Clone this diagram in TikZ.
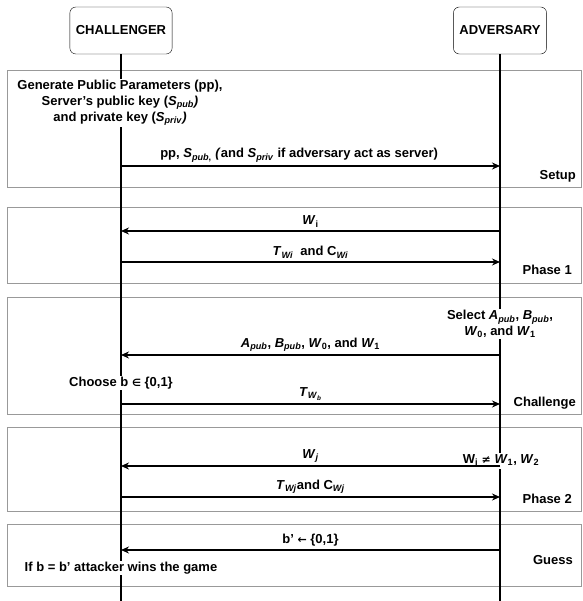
\documentclass[tikz,border=0pt]{standalone}
\usepackage{fontspec}
\setmainfont{Liberation Sans}
\newfontfamily\symfont{DejaVu Sans}
\usetikzlibrary{arrows.meta,positioning}

\newcommand{\iv}[1]{\textit{#1}}
\newcommand{\sbs}[1]{\textsubscript{#1}}

\tikzset{
  actor/.style={draw, rounded corners=6pt, inner xsep=6pt, minimum height=47pt},
  frame/.style={draw=black!40, line width=0.9pt},
  life/.style={line width=1.8pt},
  msg/.style={line width=1.3pt, -{Stealth[length=8pt,width=7pt]}},
  lbl/.style={inner sep=1pt},
  note/.style={fill=white, inner sep=1pt, align=center},
  phase/.style={anchor=east, inner sep=1pt},
}

\begin{document}
\begin{tikzpicture}[x=1pt, y=-1pt, font=\fontsize{13}{16}\selectfont\bfseries]
  \useasboundingbox (0,0) rectangle (582,601);

  % frames
  \draw[frame] (7,70) rectangle (581,187);
  \draw[frame] (7,207) rectangle (581,283);
  \draw[frame] (7,297) rectangle (581,414);
  \draw[frame] (7,427) rectangle (581,511);
  \draw[frame] (7,524) rectangle (581,586);

  % actors and lifelines
  \node[actor] (chal) at (121,30.5) {CHALLENGER};
  \node[actor] (adv) at (500,30.5) {ADVERSARY};
  \draw[life] (chal) -- (chal |- 0,601);
  \draw[life] (adv) -- (adv |- 0,601);

  % setup
  \node[note] (gen) at (120,103) {Generate Public Parameters (pp),\\
    Server's public key (\iv{S}\sbs{\iv{pub}}\iv{)}\\
    and private key (\iv{S}\sbs{\iv{priv}}\iv{)}};
  \coordinate (c1) at (chal |- 0,166);
  \coordinate (a1) at (adv |- 0,166);
  \path[msg] (c1) edge node[lbl, above=2pt, pos=0.47]
    {pp, \iv{S}\sbs{\iv{pub},} \iv{(}and \iv{S}\sbs{\iv{priv}} if adversary act as server)} (a1);
  \node[phase] (setup) at (577,176) {Setup};

  % phase 1
  \coordinate (a2) at (adv |- 0,231);
  \coordinate (c2) at (chal |- 0,231);
  \coordinate (c3) at (chal |- 0,262);
  \coordinate (a3) at (adv |- 0,262);
  \path[msg] (a2) edge node[lbl, above=2pt] {\iv{W}\sbs{i}} (c2);
  \path[msg] (c3) edge node[lbl, above=2pt]
    {\iv{T}\sbs{\iv{Wi}} \ and C\sbs{\iv{Wi}}} (a3);
  \node[phase] (ph1) at (573,270) {Phase 1};

  % challenge
  \node[note] (sel) at (500,324) {Select \iv{A}\sbs{\iv{pub}}, \iv{B}\sbs{\iv{pub}},\\
    \iv{W}\sbs{0}, and \iv{W}\sbs{1}};
  \coordinate (a4) at (adv |- 0,355);
  \coordinate (c4) at (chal |- 0,355);
  \path[msg] (a4) edge node[lbl, above=2pt]
    {\iv{A}\sbs{\iv{pub}}, \iv{B}\sbs{\iv{pub}}, \iv{W}\sbs{0}, and \iv{W}\sbs{1}} (c4);
  \node[note] (choose) at (121,383) {Choose b {\symfont\fontsize{10}{12}\selectfont ∈} \{0,1\}};
  \coordinate (c5) at (chal |- 0,404);
  \coordinate (a5) at (adv |- 0,404);
  \path[msg] (c5) edge node[lbl, above=2pt] {\iv{T}\sbs{\iv{W}\sbs{\iv{b}}}} (a5);
  \node[phase] (chg) at (577,403) {Challenge};

  % phase 2
  \node[note] (neq) at (501,461) {W\sbs{j} {\symfont\fontsize{11}{12}\selectfont ≠} \iv{W}\sbs{1}, \iv{W}\sbs{2}};
  \coordinate (a6) at (adv |- 0,466);
  \coordinate (c6) at (chal |- 0,466);
  \coordinate (c7) at (chal |- 0,497);
  \coordinate (a7) at (adv |- 0,497);
  \path[msg] (a6) edge node[lbl, above=2pt] {\iv{W}\sbs{\iv{j}}} (c6);
  \path[msg] (c7) edge node[lbl, above=2pt]
    {\iv{T}\sbs{\iv{Wj}}and C\sbs{\iv{Wj}}} (a7);
  \node[phase] (ph2) at (573,499) {Phase 2};

  % guess
  \coordinate (a8) at (adv |- 0,550);
  \coordinate (c8) at (chal |- 0,550);
  \path[msg] (a8) edge node[lbl, above=2pt] {b' {\symfont\fontsize{11}{12}\selectfont ←} \{0,1\}} (c8);
  \node[note] (win) at (121,568) {If b = b' attacker wins the game};
  \node[phase] (guess) at (574,560) {Guess};
\end{tikzpicture}
\end{document}
